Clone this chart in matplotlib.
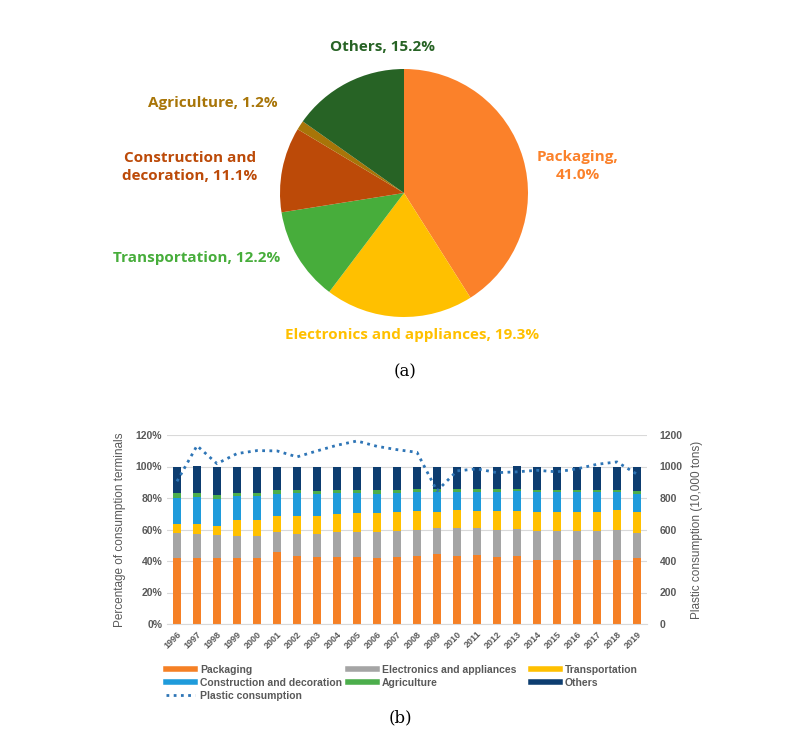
import numpy as np
import matplotlib
matplotlib.use("Agg")
import matplotlib.pyplot as plt
from matplotlib.lines import Line2D

# (a) pie shares, clockwise from 12 o'clock
pie_labels = ["Packaging,\n41.0%", "Electronics and appliances, 19.3%",
              "Transportation, 12.2%", "Construction and\ndecoration, 11.1%",
              "Agriculture, 1.2%", "Others, 15.2%"]
pie_values = [41.0, 19.3, 12.2, 11.1, 1.2, 15.2]
pie_colors = ["#FB812A", "#FFC000", "#47AD3B", "#BC4A08", "#A87508", "#276325"]

# (b) stacked shares per year (%)
years = [str(y) for y in range(1996, 2020)]
packaging = [42.0, 42.0, 42.0, 42.0, 42.0, 45.4, 43.2, 42.8, 42.8, 42.6, 42.0, 42.6,
             43.0, 44.7, 43.0, 43.9, 42.8, 43.2, 40.7, 40.7, 40.7, 40.7, 40.7, 41.8]
electronics = [16.0, 15.2, 14.3, 14.1, 13.9, 13.2, 14.2, 14.6, 15.6, 15.8, 16.4, 16.3,
               16.9, 16.5, 17.8, 16.9, 16.7, 16.9, 18.2, 18.2, 18.6, 18.6, 19.2, 16.0]
transportation = [5.3, 6.1, 5.9, 9.7, 10.1, 10.0, 11.2, 11.2, 11.2, 11.9, 11.9, 12.2,
                  11.8, 10.1, 11.4, 11.1, 12.2, 11.4, 12.0, 12.0, 11.8, 11.8, 12.3, 13.1]
construction = [16.9, 17.3, 17.1, 15.2, 15.0, 14.1, 14.5, 14.1, 13.3, 12.8, 12.4, 12.0,
                12.1, 12.5, 11.6, 11.9, 12.1, 12.7, 12.6, 12.6, 12.4, 12.4, 11.8, 11.8]
agriculture = [2.7, 2.5, 2.3, 2.1, 2.1, 2.5, 2.1, 1.7, 1.9, 1.9, 2.1, 1.9,
               1.9, 1.6, 1.6, 1.6, 1.6, 1.7, 1.7, 1.5, 1.5, 1.3, 1.0, 1.9]
others = [100 - a - b - c - d - e for a, b, c, d, e in
          zip(packaging, electronics, transportation, construction, agriculture)]
consumption = [906, 1132, 1018, 1082, 1101, 1099, 1061, 1099, 1135, 1162, 1128, 1107,
               1090, 845, 972, 985, 961, 966, 976, 966, 985, 1014, 1029, 951]

series = [("Packaging", packaging, "#F58025"),
          ("Electronics and appliances", electronics, "#A5A5A5"),
          ("Transportation", transportation, "#FFC000"),
          ("Construction and decoration", construction, "#1F9BDB"),
          ("Agriculture", agriculture, "#4CAE4C"),
          ("Others", others, "#0D3D70")]

W, H = 800, 747
fig = plt.figure(figsize=(W / 100, H / 100), dpi=100)

# ---- (a) pie
r = 124
cx, cy = 404, 193
axp = fig.add_axes([(cx - r) / W, (H - cy - r) / H, 2 * r / W, 2 * r / H])
axp.pie(pie_values, colors=pie_colors, startangle=90, counterclock=False,
        radius=1, wedgeprops=dict(linewidth=0))
axp.set_xlim(-1, 1)
axp.set_ylim(-1, 1)
axp.set_aspect("equal")
axp.axis("off")

label_pos = [(578, 166), (412, 335), (197, 258), (190, 167), (213, 103), (383, 47)]
for txt, col, (px, py) in zip(pie_labels, pie_colors, label_pos):
    fig.text(px / W, 1 - py / H, txt, color=col, fontsize=11, fontweight="bold",
             family="Open Sans", ha="center", va="center", linespacing=1.3)

fig.text(405 / W, 1 - 372 / H, "(a)", family="DejaVu Serif", fontsize=12,
         ha="center", va="center")
fig.text(400 / W, 1 - 718 / H, "(b)", family="DejaVu Serif", fontsize=12,
         ha="center", va="center")

# ---- (b) stacked bars + consumption line
gray = "#595959"
ax = fig.add_axes([167 / W, (H - 624) / H, 480 / W, (624 - 435) / H])
x = np.arange(len(years))
bottom = np.zeros(len(years))
handles = []
for name, vals, col in series:
    ax.bar(x, vals, width=0.37, bottom=bottom, color=col, zorder=2)
    bottom += np.array(vals)
    handles.append(Line2D([], [], color=col, lw=4, label=name))

ax.set_xlim(-0.5, len(years) - 0.5)
ax.set_ylim(0, 120)
ax.set_yticks(range(0, 121, 20))
ax.set_yticklabels([f"{v}%" for v in range(0, 121, 20)])
ax.set_xticks(x)
ax.set_xticklabels(years, rotation=45, ha="right", rotation_mode="anchor")
ax.grid(axis="y", color="#D9D9D9", lw=0.8, zorder=0)
for s in ax.spines.values():
    s.set_visible(False)
ax.spines["bottom"].set_visible(True)
ax.spines["bottom"].set_color("#D9D9D9")
ax.tick_params(length=0, colors=gray, labelsize=7.5)
ax.tick_params(axis="x", labelsize=6.5, pad=4)
for lab in ax.get_xticklabels() + ax.get_yticklabels():
    lab.set_fontweight("bold")
    lab.set_family("Liberation Sans")
ax.set_ylabel("Percentage of consumption terminals", color=gray, fontsize=8.5,
              family="Liberation Sans", labelpad=7)

ax2 = ax.twinx()
ax2.plot(x, consumption, color="#2E75B6", lw=2, ls=(0, (1, 1.6)), zorder=3)
ax2.set_ylim(0, 1200)
ax2.set_yticks(range(0, 1201, 200))
for s in ax2.spines.values():
    s.set_visible(False)
ax2.tick_params(length=0, colors=gray, labelsize=7.5, pad=9)
for lab in ax2.get_yticklabels():
    lab.set_fontweight("bold")
    lab.set_family("Liberation Sans")
ax2.set_ylabel("Plastic consumption (10,000 tons)", color=gray, fontsize=8.5,
               family="Liberation Sans", labelpad=6)

line_handle = Line2D([], [], color="#2E75B6", lw=2, ls=(0, (1, 1.6)),
                     label="Plastic consumption")
columns = [([handles[0], handles[3], line_handle], 166),
           ([handles[1], handles[4]], 348),
           ([handles[2], handles[5]], 531)]
for col_handles, lx in columns:
    leg = fig.legend(handles=col_handles, ncol=1, loc="upper left",
                     bbox_to_anchor=(lx / W, 1 - 665 / H), frameon=False,
                     prop=dict(family="Liberation Sans", weight="bold", size=7.5),
                     handlelength=2.8, handletextpad=0.45, labelspacing=0.28,
                     borderpad=0, borderaxespad=0)
    for t in leg.get_texts():
        t.set_color(gray)

fig.savefig("out.png", dpi=100, facecolor="white")
